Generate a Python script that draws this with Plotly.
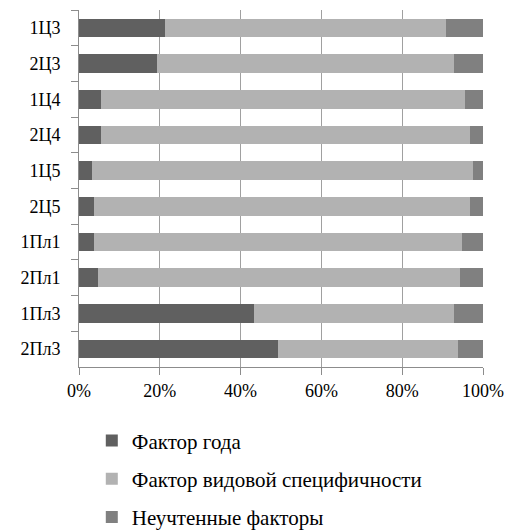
import plotly.graph_objects as go

# Variants (top to bottom)
categories = ["1Ц3", "2Ц3", "1Ц4", "2Ц4", "1Ц5", "2Ц5", "1Пл1", "2Пл1", "1Пл3", "2Пл3"]

# Share of variance explained by each factor, %
year_factor = [21.4, 19.2, 5.5, 5.5, 3.3, 3.6, 3.7, 4.6, 43.3, 49.3]
species_factor = [69.4, 73.5, 90.0, 91.3, 94.1, 93.2, 91.2, 89.7, 49.6, 44.6]
residual_factor = [9.2, 7.3, 4.5, 3.2, 2.6, 3.2, 5.1, 5.7, 7.1, 6.1]

series_names = ["Фактор года", "Фактор видовой специфичности", "Неучтенные факторы"]
series_values = [year_factor, species_factor, residual_factor]
series_colors = ["#606060", "#b2b2b2", "#808080"]

x_ticks = [0, 20, 40, 60, 80, 100]
x_tick_labels = ["0%", "20%", "40%", "60%", "80%", "100%"]

FONT = "Times New Roman, Liberation Serif, serif"

fig = go.Figure()
for name, vals, color in zip(series_names, series_values, series_colors):
    fig.add_trace(go.Bar(
        y=categories,
        x=vals,
        name=name,
        orientation="h",
        marker=dict(color=color, line=dict(width=0)),
        legendgroup=name,
    ))

fig.update_layout(
    barmode="stack",
    bargap=0.48,
    width=510,
    height=530,
    margin=dict(l=79, r=27, t=10, b=163, autoexpand=False),
    paper_bgcolor="white",
    plot_bgcolor="white",
    font=dict(family=FONT, size=17, color="#000000"),
    showlegend=True,
    legend=dict(
        orientation="v",
        traceorder="grouped",
        tracegroupgap=8,
        xref="container",
        yref="container",
        x=0.18,
        xanchor="left",
        y=0.207,
        yanchor="top",
        font=dict(family=FONT, size=21, color="#000000"),
        bgcolor="rgba(0,0,0,0)",
    ),
    xaxis=dict(
        range=[0, 100],
        tickmode="array",
        tickvals=x_ticks,
        ticktext=x_tick_labels,
        showgrid=True,
        gridcolor="#a0a0a0",
        gridwidth=1,
        zeroline=False,
        showline=True,
        linecolor="#8c8c8c",
        linewidth=1,
        ticks="outside",
        ticklen=7,
        tickcolor="#8c8c8c",
        tickfont=dict(family=FONT, size=18),
        fixedrange=True,
    ),
    yaxis=dict(
        categoryorder="array",
        categoryarray=categories,
        autorange="reversed",
        showgrid=False,
        showline=True,
        linecolor="#8c8c8c",
        linewidth=1,
        ticks="outside",
        tickson="boundaries",
        ticklen=7,
        tickcolor="#8c8c8c",
        tickfont=dict(family=FONT, size=18),
        ticklabelstandoff=14,
        fixedrange=True,
    ),
)

fig.write_html("out.html")
